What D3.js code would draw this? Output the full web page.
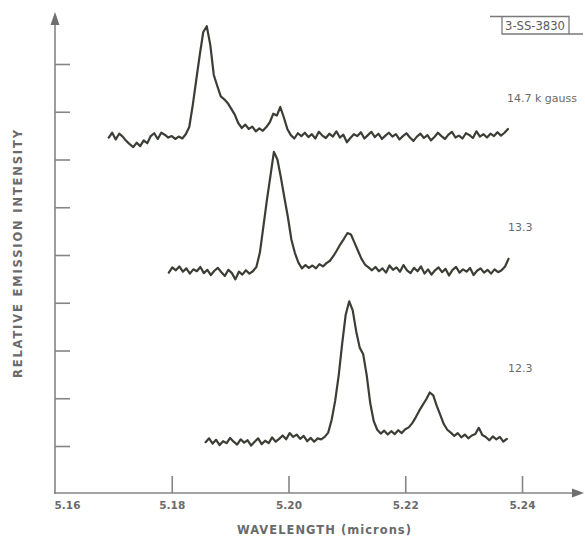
<!DOCTYPE html>
<html><head><meta charset="utf-8">
<script src="https://cdn.jsdelivr.net/npm/d3@7"></script>
<style>body{margin:0;background:#fff}svg{display:block}</style>
</head><body><svg id="c" width="585" height="538"></svg>
<script>
// ---- data ----
const xTickValues = [5.16, 5.18, 5.20, 5.22, 5.24];
const xTickLabels = ["5.16", "5.18", "5.20", "5.22", "5.24"];
const yTickValues = [10, 20, 30, 40, 50, 60, 70, 80, 90];
const sampleStep = 0.0006; // microns between readings
const start147 = 5.1692, start133 = 5.1795, start123 = 5.1858;
const fieldLabels = ["14.7 k gauss", "13.3", "12.3"];
const figureId = "3-SS-3830";

const int147 = [74.6,75.6,74.2,75.4,74.8,73.9,73.2,72.6,73.5,72.8,74.0,73.4,74.9,75.5,74.3,75.6,75.2,74.6,74.9,74.3,74.8,74.4,75.3,
 76.8,81.4,86.7,91.9,96.7,97.9,94.0,87.7,85.4,83.2,82.6,81.8,80.6,79.4,77.6,76.6,77.3,76.4,76.9,75.9,76.5,76.0,76.8,77.8,79.6,79.2,81.0,78.8,76.4,75.1,74.4,75.5,74.9,
 75.6,74.7,75.3,74.4,75.8,75.0,74.5,75.4,74.8,75.9,74.6,75.2,73.6,74.5,75.3,74.9,75.7,74.4,75.1,75.8,74.7,75.4,74.3,75.0,75.6,74.8,75.3,74.2,74.9,75.5,74.6,73.9,74.8,75.4,74.5,75.1,74.0,74.7,75.6,74.9,74.3,75.2,75.8,74.6,75.0,74.4,75.5,75.1,74.5,75.9,74.8,75.3,74.6,75.4,74.9,75.7,75.0,75.6,76.4];

const int133 = [46.3,47.4,46.8,47.6,46.5,47.2,46.1,47.0,46.6,47.5,46.2,46.9,45.8,46.7,47.3,46.4,45.6,46.9,46.2,44.9,46.5,45.9,46.8,46.1,46.6,
 47.5,50.5,56.0,61.5,66.5,71.6,70.0,66.2,62.0,57.9,53.2,50.4,48.4,47.2,47.9,47.3,47.8,47.2,48.1,47.6,48.3,48.8,49.8,51.0,52.3,53.4,54.6,54.3,52.6,50.9,49.2,48.0,47.4,46.8,
 47.5,46.6,47.2,46.3,47.8,46.9,47.4,46.5,47.9,46.8,46.2,47.3,46.6,47.6,46.1,47.0,45.9,46.8,47.4,46.4,47.1,45.7,46.9,47.5,46.3,47.0,46.5,47.3,45.8,46.7,47.2,46.3,46.9,46.1,47.0,46.4,46.8,47.6,49.2];

const int123 = [10.8,11.6,10.5,11.3,10.2,11.0,10.6,11.7,10.9,10.3,11.4,10.7,11.2,10.1,10.9,11.6,10.4,11.1,10.6,11.8,10.9,11.5,12.2,11.4,12.7,11.9,12.4,11.5,12.1,11.0,11.7,10.9,11.6,
 11.4,11.9,12.8,15.5,19.5,24.8,31.5,37.5,40.3,38.4,34.0,30.6,29.2,24.8,19.0,15.2,13.4,12.6,13.2,12.4,13.1,12.5,13.3,12.7,13.5,13.9,14.8,16.0,17.4,18.6,19.8,21.2,20.6,18.4,16.5,14.6,13.4,12.8,
 12.1,12.7,11.8,12.4,11.6,12.2,12.5,13.8,12.3,11.9,11.2,12.0,11.4,11.9,10.9,11.5];

// ---- drawing ----
const svg = d3.select("#c");
svg.append("rect").attr("width",585).attr("height",538).attr("fill","#fff");
const axisColor = "#858585", textColor = "#6a6a6a", inkColor = "#3a3e34";
const font = "'DejaVu Sans', Arial, sans-serif";

const x = d3.scaleLinear().domain([5.16, 5.24]).range([55, 522]);
const y = d3.scaleLinear().domain([0, 100]).range([493.75, 16.25]);

// y axis (ticks pointing inward, no labels)
const gy = svg.append("g").attr("transform", "translate(55,0)")
  .call(d3.axisRight(y).tickValues(yTickValues).tickSize(15).tickFormat(""));
gy.select(".domain").remove();
gy.selectAll("line").attr("stroke", axisColor).attr("stroke-width", 1.6);
svg.append("line").attr("x1",55).attr("x2",55).attr("y1",494).attr("y2",22)
  .attr("stroke",axisColor).attr("stroke-width",1.6);
svg.append("path").attr("d","M55,12 L50.5,25 L59.5,25 Z").attr("fill","#6f6f6f");

// x axis (ticks pointing up, labels below)
const gx = svg.append("g").attr("transform", "translate(0,493)")
  .call(d3.axisBottom(x).tickValues(xTickValues).tickSize(-17).tickPadding(6)
    .tickFormat((d,i) => xTickLabels[i]));
gx.select(".domain").remove();
gx.selectAll("line").attr("stroke", axisColor).attr("stroke-width", 1.6);
gx.selectAll(".tick").filter(d => d === 5.16).select("line").remove();
gx.selectAll("text").attr("fill", textColor).attr("font-family", font)
  .attr("font-size", 10.5).attr("font-weight", "bold").attr("dy", "0.95em");
gx.selectAll(".tick").filter(d => d === 5.16).select("text").attr("dx", 12);
svg.append("line").attr("x1",54).attr("x2",577).attr("y1",493).attr("y2",493)
  .attr("stroke",axisColor).attr("stroke-width",1.6);
svg.append("path").attr("d","M584,493 L572,488.5 L572,497.5 Z").attr("fill","#6f6f6f");

// axis titles
svg.append("text").attr("x", 324).attr("y", 534).attr("text-anchor","middle")
  .attr("font-family", font).attr("font-size", 11.5).attr("font-weight","bold")
  .attr("fill", textColor).attr("textLength", 174).attr("lengthAdjust","spacing")
  .text("WAVELENGTH (microns)");
svg.append("text").attr("transform","translate(22,254) rotate(-90)")
  .attr("text-anchor","middle").attr("font-family", font).attr("font-size", 11.5)
  .attr("font-weight","bold").attr("fill", textColor)
  .attr("textLength", 248).attr("lengthAdjust","spacing")
  .text("RELATIVE EMISSION INTENSITY");

// spectra
const series = [
  {start: start147, vals: int147},
  {start: start133, vals: int133},
  {start: start123, vals: int123}
];
series.forEach(s => {
  const line = d3.line().x((d,i) => x(s.start + i*sampleStep)).y(d => y(d));
  svg.append("path").attr("d", line(s.vals)).attr("fill","none")
    .attr("stroke", inkColor).attr("stroke-width", 2.2)
    .attr("stroke-linejoin","round").attr("stroke-linecap","round");
});

// field labels
const labelPos = [[507,102],[508,231],[508,372]];
fieldLabels.forEach((t,i) => {
  svg.append("text").attr("x", labelPos[i][0]).attr("y", labelPos[i][1])
    .attr("font-family", font).attr("font-size", 11).attr("fill", textColor)
    .text(t);
});

// figure id box
const bx = svg.append("g").attr("stroke", "#7a7a7a").attr("stroke-width", 1.3).attr("fill","none");
bx.append("path").attr("d","M490,16.5 L569,16.5 L569,34 M502,16.5 L502,34 L583,34");
svg.append("text").attr("x", 535).attr("y", 29.5).attr("text-anchor","middle")
  .attr("font-family", "'Liberation Sans Narrow', 'DejaVu Sans Condensed', sans-serif")
  .attr("font-size", 12).attr("fill", "#5a5a5a")
  .attr("textLength", 60).attr("lengthAdjust","spacingAndGlyphs")
  .text(figureId);
</script></body></html>
